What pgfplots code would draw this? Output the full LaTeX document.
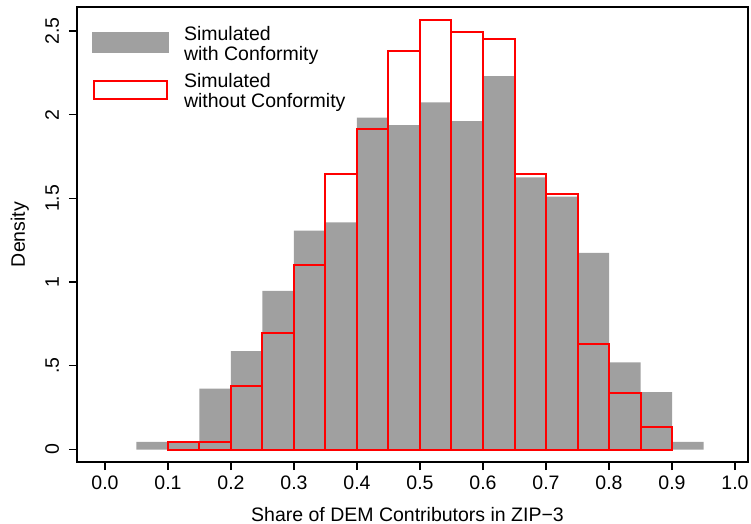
\documentclass[border=0pt]{standalone}
\usepackage{fontspec}
\setmainfont{Liberation Sans}
\usepackage{pgfplots}
\pgfplotsset{compat=1.18}
\definecolor{histgray}{RGB}{160,160,160}
\definecolor{stred}{RGB}{255,0,0}
\begin{document}
\begin{tikzpicture}[font=\fontsize{9.75}{11.7}\selectfont]
\begin{axis}[
  name=ax,
  scale only axis, width=335.5pt, height=227.5pt,
  xmin=-0.0444, xmax=1.0206, ymin=-0.0747, ymax=2.643,
  axis line style={line width=0.7pt, black},
  tick align=outside, xtick pos=bottom, ytick pos=left,
  major tick length=4pt,
  tick style={line width=0.6pt, black},
  /pgf/number format/assume math mode=true,
  xtick={0,0.1,0.2,0.3,0.4,0.5,0.6,0.7,0.8,0.9,1},
  xticklabels={0.0,0.1,0.2,0.3,0.4,0.5,0.6,0.7,0.8,0.9,1.0},
  ytick={0,0.5,1,1.5,2,2.5},
  yticklabels={0,.5,1,1.5,2,2.5},
  xticklabel style={inner sep=0pt, anchor=north, yshift=-2.5pt},
  yticklabel style={rotate=90, anchor=south, inner sep=0pt, outer sep=5pt},
  xlabel={Share of DEM Contributors in ZIP\textminus 3},
  xlabel style={at={(axis description cs:0.5,0)}, anchor=north, inner sep=0pt, yshift=-22.3pt, xshift=-2.5pt},
  ylabel={Density},
  ylabel style={at={(axis description cs:-0.0775,0.5)}, rotate=0, anchor=base, inner sep=0pt},
  legend style={at={(axis description cs:0.0224,0.968)}, anchor=north west,
    draw=none, fill=none, inner sep=0pt, row sep=5.65pt, column sep=5.5pt,
    font=\fontsize{9.75}{9.65}\selectfont,
    cells={anchor=west, inner sep=0pt}},
]
\addplot[ybar interval, fill=histgray, draw=none,
  legend image code/.code={\fill[histgray] (0pt,-6.65pt) rectangle (38.3pt,3.85pt);}]
  coordinates {
  (0.05,0.045) (0.10,0.045) (0.15,0.364) (0.20,0.587) (0.25,0.947)
  (0.30,1.308) (0.35,1.356) (0.40,1.983) (0.45,1.937) (0.50,2.073)
  (0.55,1.961) (0.60,2.230) (0.65,1.625) (0.70,1.511) (0.75,1.175)
  (0.80,0.520) (0.85,0.342) (0.90,0.045) (0.95,0.045)};
\addlegendentry{\begin{tabular}{@{}l@{}}Simulated\\with Conformity\end{tabular}}
\addplot[ybar interval, fill=none, draw=stred, line width=1pt,
  legend image code/.code={\draw[stred, line width=1pt] (0.9pt,-5.9pt) rectangle (37.4pt,3.1pt);}]
  coordinates {
  (0.10,0.045) (0.15,0.045) (0.20,0.380) (0.25,0.697) (0.30,1.101)
  (0.35,1.643) (0.40,1.912) (0.45,2.383) (0.50,2.565) (0.55,2.495)
  (0.60,2.451) (0.65,1.643) (0.70,1.529) (0.75,0.631) (0.80,0.336)
  (0.85,0.133) (0.90,0.133)};
\addlegendentry{\begin{tabular}{@{}l@{}}Simulated\\without Conformity\end{tabular}}
\end{axis}
\pgfresetboundingbox
\path[use as bounding box] ([xshift=-38.5pt,yshift=-30.5pt]ax.south west) rectangle ([xshift=1.5pt,yshift=3.5pt]ax.north east);
\end{tikzpicture}
\end{document}
